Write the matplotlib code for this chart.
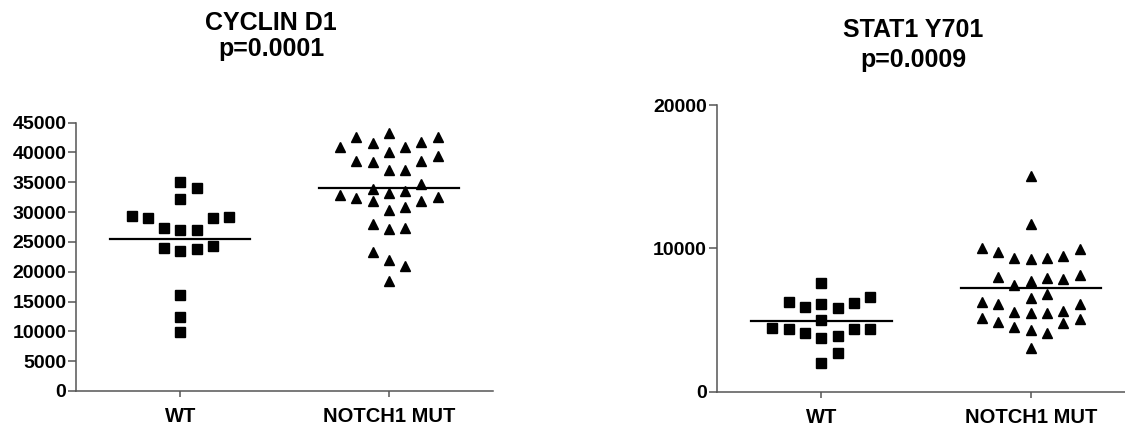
import numpy as np
import matplotlib
matplotlib.use("Agg")
import matplotlib.pyplot as plt

plt.rcParams['font.family'] = ['Liberation Sans', 'DejaVu Sans']
plt.rcParams['font.weight'] = 'bold'

# Gruppi
groups = ["WT", "NOTCH1 MUT"]

# CYCLIN D1
cyclin_wt = [35100, 34000, 32250, 29230, 28960, 29070, 29350, 27000, 27000,
             27290, 24040, 23480, 23760, 24370, 16100, 12460, 9840]
cyclin_mut = [42650, 41820, 40980, 43220, 40140, 40870, 41540, 42550, 39420,
              38580, 37070, 37070, 38460, 38580, 34670, 33830, 33160, 33550,
              32490, 31870, 31870, 32320, 32880, 30910, 30360, 28010, 27120,
              27390, 23370, 21970, 20970, 18450]

# STAT1 Y701
stat1_wt = [4350, 4350, 6170, 6630, 5930, 3890, 7610, 6260, 5000, 3720, 1980,
            5820, 4070, 2680, 6100, 4350, 4470]
stat1_mut = [15050, 11700, 10000, 9770, 9310, 9470, 9930, 9240, 9310, 8030,
             7840, 7440, 8140, 7720, 7950, 6820, 6280, 6120, 5470, 5540, 5650,
             6120, 6520, 5470, 5160, 4810, 4530, 4300, 4840, 4070, 5070, 3030]

cyclin_ticks = np.arange(0, 45001, 5000)
stat1_ticks = [0, 10000, 20000]


def swarm_offsets(values, min_gap, step=0.078, max_slot=3):
    """Disposizione a sciame: i punti vicini vengono affiancati (max 7 colonne)"""
    vals = np.asarray(values, dtype=float)
    order = np.argsort(vals)
    slots = [0]
    for k in range(1, max_slot + 1):
        slots += [k, -k]
    placed = {s: [] for s in slots}
    offs = np.zeros(len(vals))
    for i in order:
        best, best_d = None, -1.0
        for s in slots:
            d = min([abs(v - vals[i]) for v in placed[s]], default=np.inf)
            if d >= min_gap:
                best = s
                break
            if d > best_d:
                best, best_d = s, d
        placed[best].append(vals[i])
        offs[i] = best * step
    return offs


def draw_panel(ax, wt, mut, ymax, ticks, gap):
    for x, vals, marker, ms in [(0, wt, 's', 6.8), (1, mut, '^', 7.6)]:
        xs = x + swarm_offsets(vals, gap)
        ax.plot(xs, vals, linestyle='none', marker=marker, markersize=ms,
                color='black', clip_on=False)
        # linea della media
        ax.plot([x - 0.335, x + 0.335], [np.mean(vals)] * 2, color='black', lw=1.6)

    ax.set_xlim(-0.5, 1.5)
    ax.set_ylim(0, ymax)
    ax.set_xticks([0, 1])
    ax.set_xticklabels(groups)
    ax.set_yticks(ticks)
    ax.set_yticklabels([str(t) for t in ticks])
    for side in ['top', 'right']:
        ax.spines[side].set_visible(False)
    for side in ['left', 'bottom']:
        ax.spines[side].set_color('#555555')
        ax.spines[side].set_linewidth(1.1)
    ax.tick_params(axis='y', length=6, width=1.1, color='#555555', pad=1,
                   labelsize=14)
    ax.tick_params(axis='x', length=4.5, width=1.1, color='#555555', pad=7,
                   labelsize=14.5)
    for lab in ax.get_xticklabels() + ax.get_yticklabels():
        lab.set_fontweight('bold')


fig = plt.figure(figsize=(11.25, 4.26), dpi=100)

ax1 = fig.add_axes([0.0676, 0.0822, 0.3707, 0.6298])
draw_panel(ax1, cyclin_wt, cyclin_mut, 45000, cyclin_ticks, 2600)

ax2 = fig.add_axes([0.6371, 0.0805, 0.3721, 0.6730])
draw_panel(ax2, stat1_wt, stat1_mut, 20000, stat1_ticks, 1100)

# Titoli
H = 426.0
fig.text(271 / 1125, 1 - 30 / H, "CYCLIN D1", ha='center', va='baseline',
         fontsize=18, fontweight='bold')
fig.text(271 / 1125, 1 - 56 / H, "p=0.0001", ha='center', va='baseline',
         fontsize=18, fontweight='bold')
fig.text(913 / 1125, 1 - 37 / H, "STAT1 Y701", ha='center', va='baseline',
         fontsize=18, fontweight='bold')
fig.text(913 / 1125, 1 - 67 / H, "p=0.0009", ha='center', va='baseline',
         fontsize=18, fontweight='bold')

fig.savefig("out.png", dpi=100)
plt.close(fig)
